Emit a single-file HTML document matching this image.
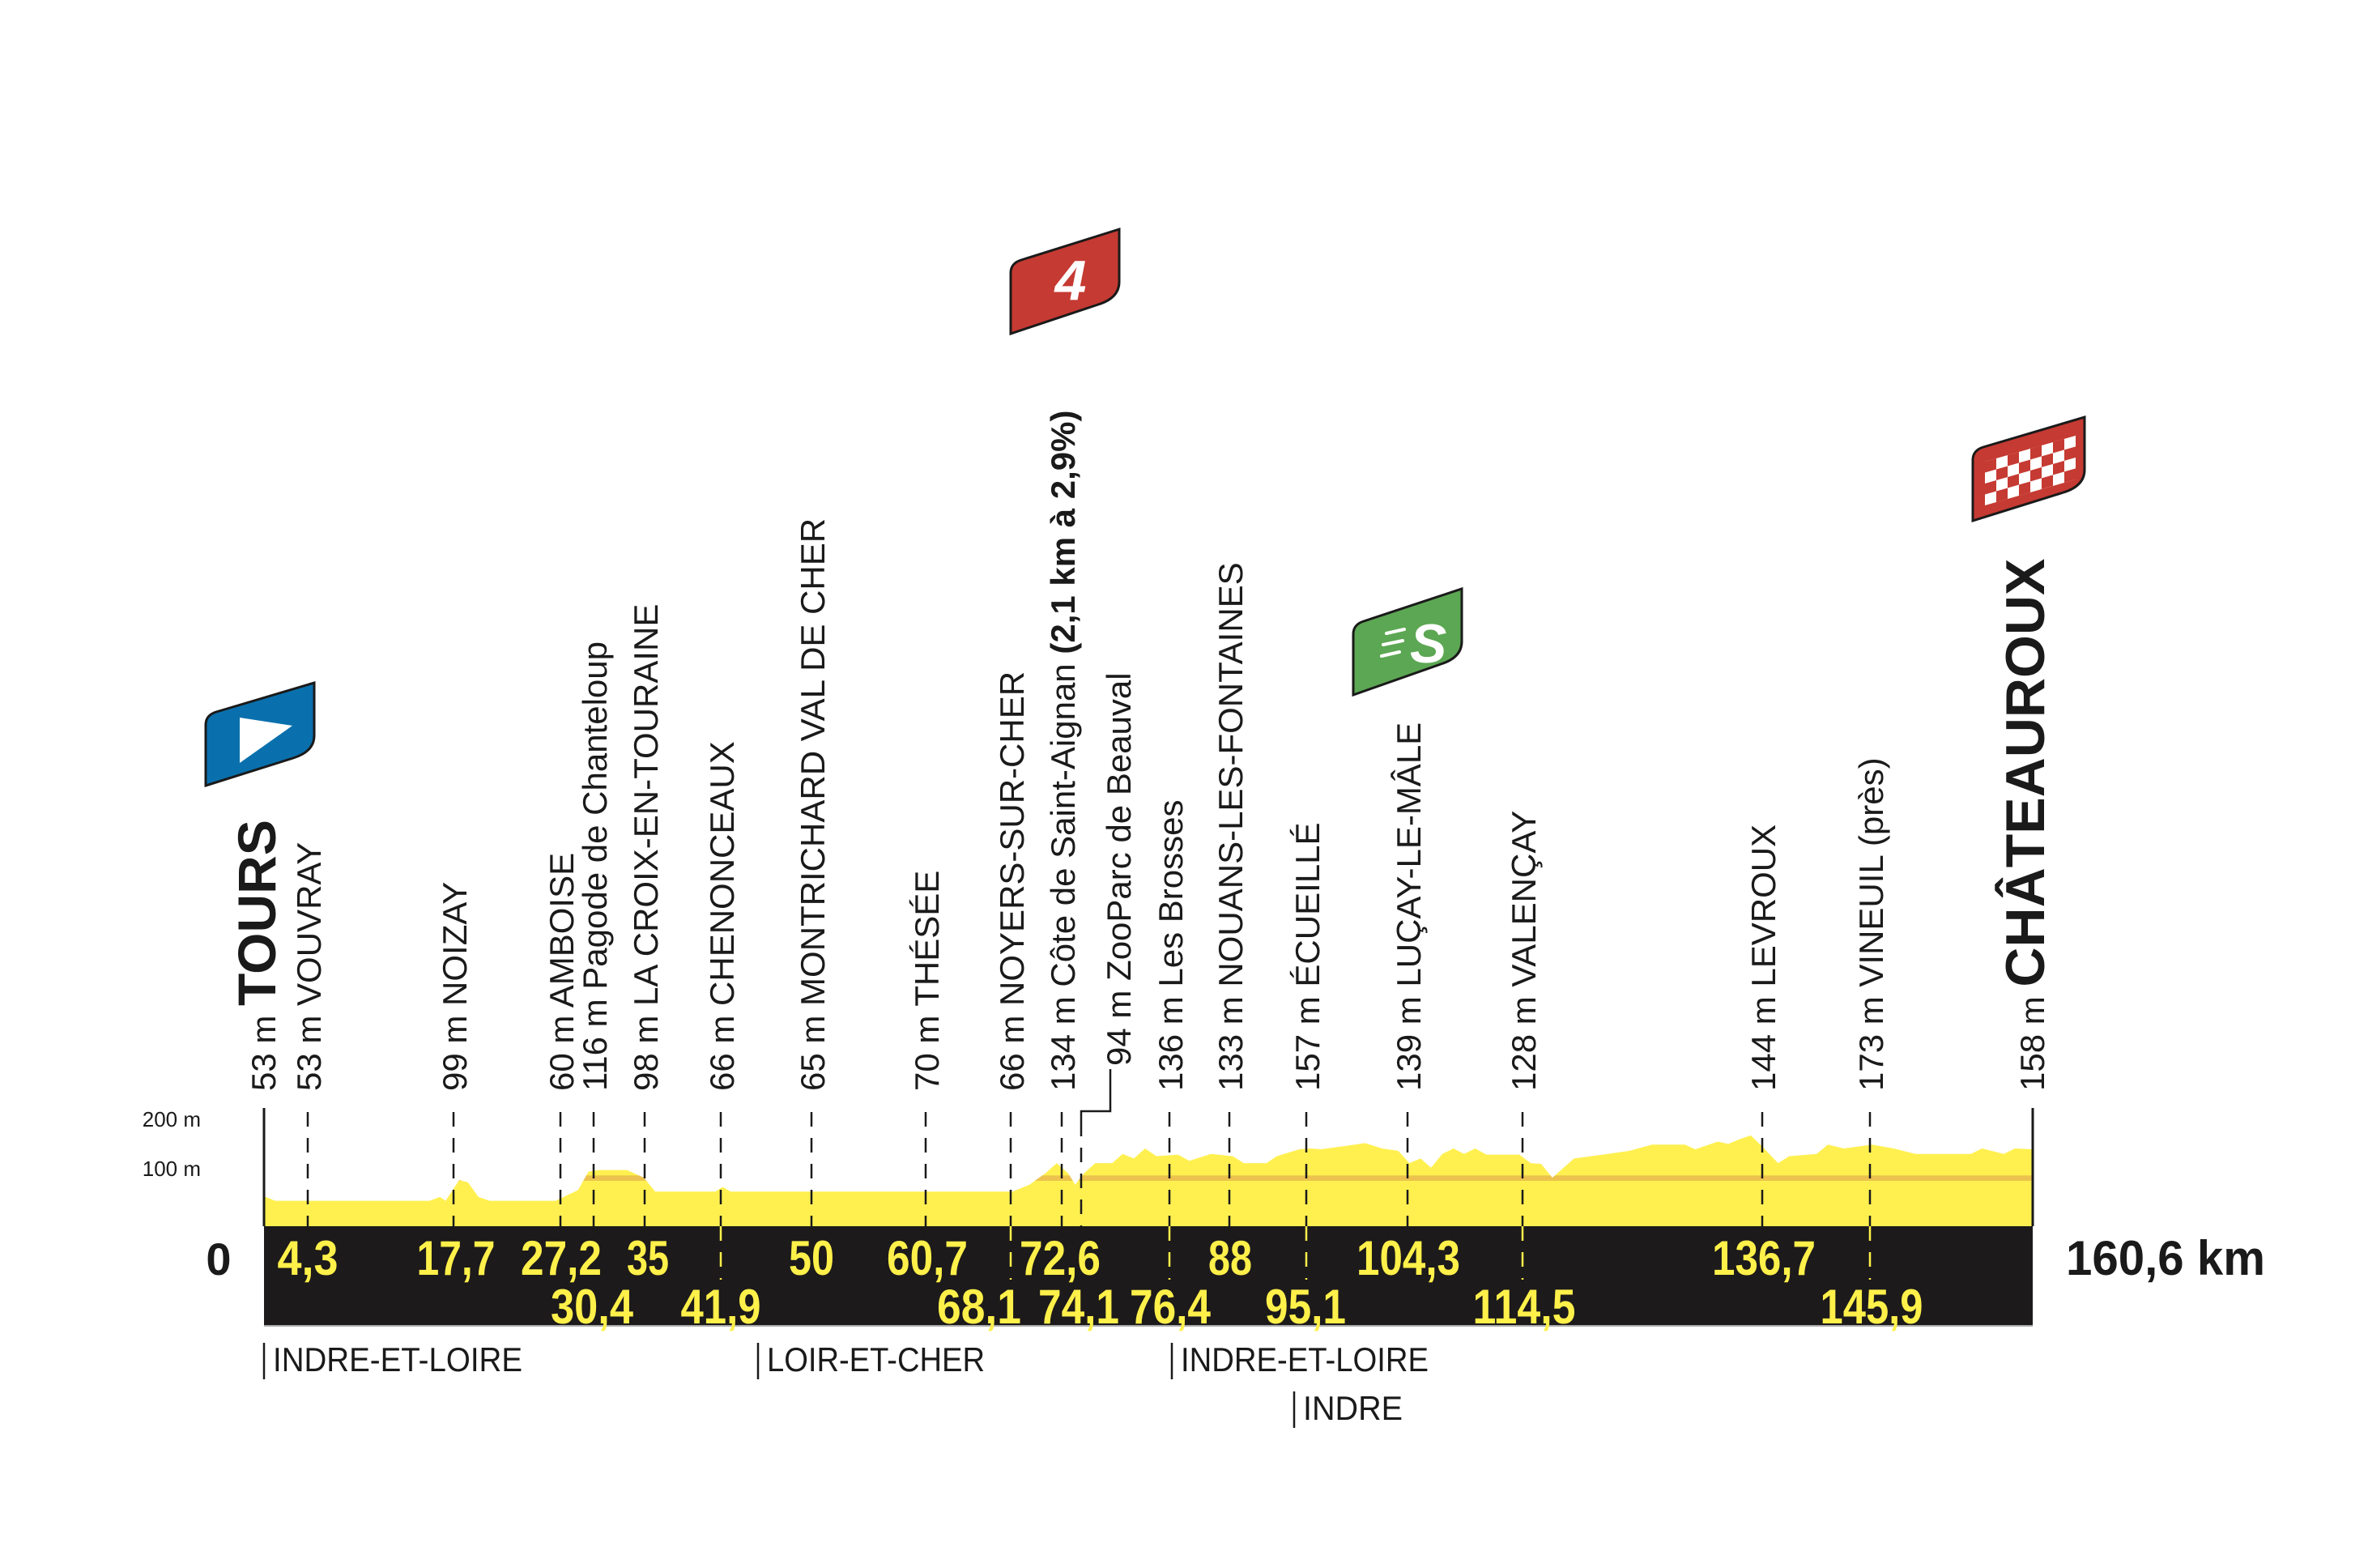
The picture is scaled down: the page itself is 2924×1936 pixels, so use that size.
<!DOCTYPE html>
<html><head><meta charset="utf-8"><style>
html,body{margin:0;padding:0;background:#fff;width:2924px;height:1936px;overflow:hidden}
svg{display:block}
.l{font-family:"Liberation Sans",sans-serif;font-size:42px;fill:#1a1a1a}
.b{font-weight:bold}
.k{font-family:"Liberation Sans Narrow","Liberation Sans",sans-serif;font-weight:bold;font-size:60px;fill:#fff04a;text-anchor:middle}
.d{font-family:"Liberation Sans Narrow","Liberation Sans",sans-serif;font-size:42px;fill:#1a1a1a}
</style></head><body>
<svg width="2924" height="1936" viewBox="0 0 2924 1936" xmlns="http://www.w3.org/2000/svg">
<defs><clipPath id="pc"><use href="#prof"/></clipPath></defs>

<g transform="translate(326,1514) scale(0.9918,0.95) translate(-329,-1527)">
<path id="prof" d="M329,1527 L329,1488 343,1494 535,1494 548,1489 555,1494 562,1483 572,1467 583,1470 596,1489 610,1494 692,1494 702,1489 720,1480 733,1456 746,1454 781,1454 802,1464 816,1482 891,1482 900,1476 910,1482 1261,1482 1282,1473 1302,1458 1316,1445 1330,1458 1339,1473 1350,1458 1364,1445 1385,1445 1398,1433 1412,1439 1426,1426 1440,1436 1467,1434 1481,1442 1508,1433 1535,1436 1549,1445 1577,1445 1590,1436 1618,1427 1631,1426 1645,1427 1673,1423 1700,1419 1721,1426 1741,1429 1755,1445 1769,1439 1782,1451 1796,1433 1810,1426 1823,1433 1837,1426 1851,1434 1892,1434 1906,1445 1919,1446 1933,1464 1960,1439 2002,1433 2029,1429 2057,1421 2098,1421 2111,1427 2139,1417 2152,1420 2166,1414 2180,1409 2194,1423 2214,1445 2228,1436 2262,1433 2276,1421 2296,1426 2331,1421 2358,1426 2385,1433 2454,1433 2468,1426 2495,1433 2509,1426 2531,1427 L2531,1527 Z" fill="#fff050"/>
<rect x="329" y="1461" width="2202" height="7" fill="#ecc24e" clip-path="url(#pc)"/>
</g>

<!-- band -->
<rect x="326" y="1514" width="2184" height="122" fill="#1c1a1a"/>
<line x1="326" y1="1637" x2="2510" y2="1637" stroke="#aaa" stroke-width="2"/>
<!-- axes -->
<line x1="326" y1="1368" x2="326" y2="1514" stroke="#1a1a1a" stroke-width="3"/>
<line x1="2510" y1="1368" x2="2510" y2="1514" stroke="#1a1a1a" stroke-width="3"/>
<text x="248" y="1391" style="font-family:'Liberation Sans',sans-serif;font-size:26px;fill:#1a1a1a" text-anchor="end">200 m</text>
<text x="248" y="1452" style="font-family:'Liberation Sans',sans-serif;font-size:26px;fill:#1a1a1a" text-anchor="end">100 m</text>

<!-- dashed lines -->
<g stroke="#1a1a1a" stroke-width="2.5" stroke-dasharray="18,14">
<line x1="380" y1="1373" x2="380" y2="1514"/>
<line x1="560" y1="1373" x2="560" y2="1514"/>
<line x1="692" y1="1373" x2="692" y2="1514"/>
<line x1="733" y1="1373" x2="733" y2="1514"/>
<line x1="796" y1="1373" x2="796" y2="1514"/>
<line x1="890" y1="1373" x2="890" y2="1514"/>
<line x1="1002" y1="1373" x2="1002" y2="1514"/>
<line x1="1143" y1="1373" x2="1143" y2="1514"/>
<line x1="1248" y1="1373" x2="1248" y2="1514"/>
<line x1="1311" y1="1373" x2="1311" y2="1514"/>
<line x1="1335" y1="1385" x2="1335" y2="1514"/>
<line x1="1444" y1="1373" x2="1444" y2="1514"/>
<line x1="1518" y1="1373" x2="1518" y2="1514"/>
<line x1="1613" y1="1373" x2="1613" y2="1514"/>
<line x1="1738" y1="1373" x2="1738" y2="1514"/>
<line x1="1880" y1="1373" x2="1880" y2="1514"/>
<line x1="2176" y1="1373" x2="2176" y2="1514"/>
<line x1="2309" y1="1373" x2="2309" y2="1514"/>
</g>
<g stroke="#fff04a" stroke-width="2.5" stroke-dasharray="18,14">
<line x1="890" y1="1514" x2="890" y2="1580"/>
<line x1="1248" y1="1514" x2="1248" y2="1580"/>
<line x1="1444" y1="1514" x2="1444" y2="1580"/>
<line x1="1613" y1="1514" x2="1613" y2="1580"/>
<line x1="1880" y1="1514" x2="1880" y2="1580"/>
<line x1="2309" y1="1514" x2="2309" y2="1580"/>
</g>
<!-- zooparc leader -->
<polyline points="1371,1320 1371,1372 1335,1372 1335,1385" fill="none" stroke="#1a1a1a" stroke-width="2.5"/>

<!-- vertical labels -->
<g class="l">
<text transform="translate(340,1347) rotate(-90)">53 m <tspan class="b" style="font-size:66px">TOURS</tspan></text>
<text transform="translate(396,1347) rotate(-90)">53 m VOUVRAY</text>
<text transform="translate(576,1347) rotate(-90)">99 m NOIZAY</text>
<text transform="translate(708,1347) rotate(-90)">60 m AMBOISE</text>
<text transform="translate(749,1347) rotate(-90)">116 m Pagode de Chanteloup</text>
<text transform="translate(812,1347) rotate(-90)">98 m LA CROIX-EN-TOURAINE</text>
<text transform="translate(906,1347) rotate(-90)">66 m CHENONCEAUX</text>
<text transform="translate(1018,1347) rotate(-90)">65 m MONTRICHARD VAL DE CHER</text>
<text transform="translate(1159,1347) rotate(-90)">70 m THÉSÉE</text>
<text transform="translate(1264,1347) rotate(-90)">66 m NOYERS-SUR-CHER</text>
<text transform="translate(1327,1347) rotate(-90)">134 m Côte de Saint-Aignan <tspan class="b">(2,1 km à 2,9%)</tspan></text>
<text transform="translate(1396,1316) rotate(-90)">94 m ZooParc de Beauval</text>
<text transform="translate(1460,1347) rotate(-90)">136 m Les Brosses</text>
<text transform="translate(1534,1347) rotate(-90)">133 m NOUANS-LES-FONTAINES</text>
<text transform="translate(1629,1347) rotate(-90)">157 m ÉCUEILLÉ</text>
<text transform="translate(1754,1347) rotate(-90)">139 m LUÇAY-LE-MÂLE</text>
<text transform="translate(1896,1347) rotate(-90)">128 m VALENÇAY</text>
<text transform="translate(2192,1347) rotate(-90)">144 m LEVROUX</text>
<text transform="translate(2325,1347) rotate(-90)">173 m VINEUIL (près)</text>
<text transform="translate(2524,1347) rotate(-90)">158 m <tspan class="b" style="font-size:68px">CHÂTEAUROUX</tspan></text>
</g>

<!-- km labels -->
<g class="k">
<text x="380" y="1574" textLength="75" lengthAdjust="spacingAndGlyphs">4,3</text>
<text x="563" y="1574" textLength="97" lengthAdjust="spacingAndGlyphs">17,7</text>
<text x="693" y="1574" textLength="100" lengthAdjust="spacingAndGlyphs">27,2</text>
<text x="800" y="1574" textLength="52" lengthAdjust="spacingAndGlyphs">35</text>
<text x="1002" y="1574" textLength="56" lengthAdjust="spacingAndGlyphs">50</text>
<text x="1145" y="1574" textLength="100" lengthAdjust="spacingAndGlyphs">60,7</text>
<text x="1309" y="1574" textLength="100" lengthAdjust="spacingAndGlyphs">72,6</text>
<text x="1519" y="1574" textLength="54" lengthAdjust="spacingAndGlyphs">88</text>
<text x="1739" y="1574" textLength="128" lengthAdjust="spacingAndGlyphs">104,3</text>
<text x="2178" y="1574" textLength="128" lengthAdjust="spacingAndGlyphs">136,7</text>
<text x="731" y="1634" textLength="102" lengthAdjust="spacingAndGlyphs">30,4</text>
<text x="890" y="1634" textLength="99" lengthAdjust="spacingAndGlyphs">41,9</text>
<text x="1209" y="1634" textLength="104" lengthAdjust="spacingAndGlyphs">68,1</text>
<text x="1332" y="1634" textLength="100" lengthAdjust="spacingAndGlyphs">74,1</text>
<text x="1445" y="1634" textLength="100" lengthAdjust="spacingAndGlyphs">76,4</text>
<text x="1612" y="1634" textLength="100" lengthAdjust="spacingAndGlyphs">95,1</text>
<text x="1882" y="1634" textLength="127" lengthAdjust="spacingAndGlyphs">114,5</text>
<text x="2311" y="1634" textLength="127" lengthAdjust="spacingAndGlyphs">145,9</text>
</g>
<text x="270" y="1574" text-anchor="middle" style="font-family:'Liberation Sans',sans-serif;font-weight:bold;font-size:56px;fill:#1a1a1a">0</text>
<text x="2551" y="1574" textLength="246" lengthAdjust="spacingAndGlyphs" style="font-family:'Liberation Sans Narrow','Liberation Sans',sans-serif;font-weight:bold;font-size:60px;fill:#1a1a1a">160,6 km</text>

<!-- departments -->
<g class="d">
<line x1="326" y1="1658" x2="326" y2="1703" stroke="#1a1a1a" stroke-width="2.5"/>
<text x="337" y="1693" textLength="308" lengthAdjust="spacingAndGlyphs">INDRE-ET-LOIRE</text>
<line x1="936" y1="1658" x2="936" y2="1703" stroke="#1a1a1a" stroke-width="2.5"/>
<text x="947" y="1693" textLength="269" lengthAdjust="spacingAndGlyphs">LOIR-ET-CHER</text>
<line x1="1447" y1="1658" x2="1447" y2="1703" stroke="#1a1a1a" stroke-width="2.5"/>
<text x="1458" y="1693" textLength="306" lengthAdjust="spacingAndGlyphs">INDRE-ET-LOIRE</text>
<line x1="1598" y1="1718" x2="1598" y2="1763" stroke="#1a1a1a" stroke-width="2.5"/>
<text x="1609" y="1753" textLength="123" lengthAdjust="spacingAndGlyphs">INDRE</text>
</g>

<!-- flags -->
<g stroke="#1a1a1a" stroke-width="3">
<path d="M254,970 L254,895 Q254,883 267,879 L388,843 L388,908 Q388,928 362,936 Z" fill="#0a70ad"/>
<path d="M1248,412 L1248,337 Q1248,325 1261,321 L1382,283 L1382,348 Q1382,368 1356,376 Z" fill="#c53a32"/>
<path d="M1671,858 L1671,783 Q1671,771 1684,767 L1805,727 L1805,792 Q1805,812 1779,820 Z" fill="#5ca753"/>
<path d="M2436,643 L2436,568 Q2436,556 2449,552 L2574,515 L2574,580 Q2574,600 2548,608 Z" fill="#c53a32"/>
</g>
<polygon points="296,886 361,896 296,942" fill="#fff"/>
<text x="1322" y="370" text-anchor="middle" style="font-family:'Liberation Sans',sans-serif;font-weight:bold;font-style:italic;font-size:70px;fill:#fff">4</text>
<g stroke="#fff" stroke-width="4" stroke-linecap="round">
<line x1="1712" y1="782" x2="1734" y2="777"/>
<line x1="1708" y1="796" x2="1732" y2="791"/>
<line x1="1706" y1="810" x2="1728" y2="805"/>
</g>
<text x="1741" y="818" style="font-family:'Liberation Sans',sans-serif;font-weight:bold;font-style:italic;font-size:68px;fill:#fff">S</text>
<!-- checker -->
<g transform="translate(2451,570) skewY(-16)">
<rect x="0" y="0" width="112" height="54" fill="#fff"/>
<g fill="#c53a32">
<rect x="0" y="0" width="14" height="13.5"/><rect x="28" y="0" width="14" height="13.5"/><rect x="56" y="0" width="14" height="13.5"/><rect x="84" y="0" width="14" height="13.5"/>
<rect x="14" y="13.5" width="14" height="13.5"/><rect x="42" y="13.5" width="14" height="13.5"/><rect x="70" y="13.5" width="14" height="13.5"/><rect x="98" y="13.5" width="14" height="13.5"/>
<rect x="0" y="27" width="14" height="13.5"/><rect x="28" y="27" width="14" height="13.5"/><rect x="56" y="27" width="14" height="13.5"/><rect x="84" y="27" width="14" height="13.5"/>
<rect x="14" y="40.5" width="14" height="13.5"/><rect x="42" y="40.5" width="14" height="13.5"/><rect x="70" y="40.5" width="14" height="13.5"/><rect x="98" y="40.5" width="14" height="13.5"/>
</g>
</g>
</svg>
</body></html>
